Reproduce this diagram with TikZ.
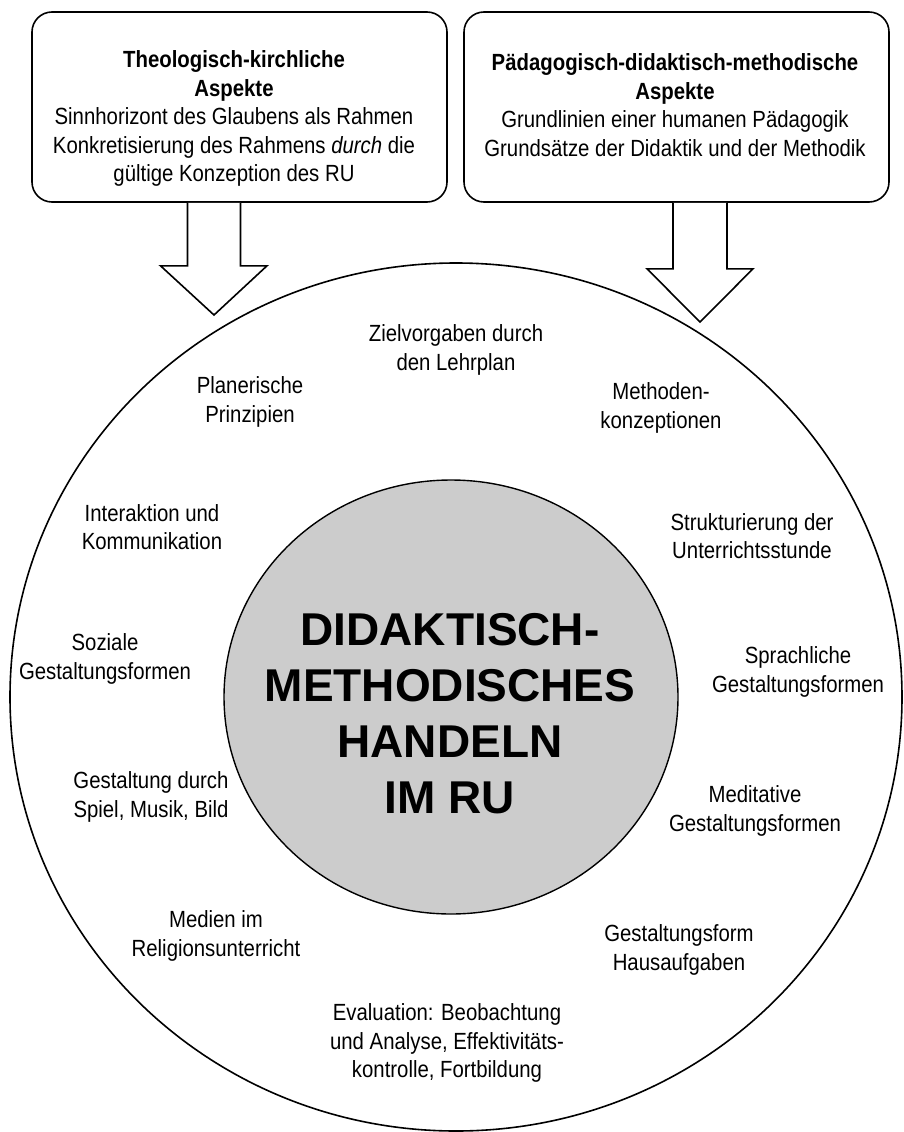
\documentclass[tikz,border=0pt]{standalone}
\usepackage{fontspec}
\setmainfont{Liberation Sans}[FakeStretch=0.87]
\newfontfamily\corefont{Liberation Sans}
\usetikzlibrary{shapes.geometric,calc}

\tikzset{
  aspectbox/.style={draw, line width=1.6pt, rounded corners=20pt, inner sep=0pt},
  boxtext/.style={align=center, inner sep=0pt, font=\fontsize{23.4}{28.5}\selectfont},
  ringlabel/.style={align=center, inner sep=0pt, font=\fontsize{23.4}{28.5}\selectfont},
  blockarrow/.style={draw, line width=1.6pt, fill=white, line join=miter},
  ring/.style={draw, ellipse, line width=1.6pt, inner sep=0pt},
  core/.style={draw, ellipse, line width=1.4pt, inner sep=0pt, fill=black!20},
  coretext/.style={align=center, inner sep=0pt, font=\corefont\fontsize{46}{56}\selectfont\bfseries}
}

\begin{document}
\begin{tikzpicture}[x=1pt, y=-1pt]
  \useasboundingbox (0,0) rectangle (904,1132);
  \fill[white] (0,0) rectangle (904,1132);

  % outer ring and shaded core
  \node[ring, minimum width=892pt, minimum height=868pt] (outer) at (456,697) {};
  \node[core, minimum width=454pt, minimum height=434pt] (inner) at (451,697) {};
  \node[coretext] (title) at (450,714) {DIDAKTISCH-\\METHODISCHES\\HANDELN\\IM RU};

  % the two aspect boxes
  \node[aspectbox, minimum width=415pt, minimum height=190pt] (theo) at (239.5,107) {};
  \node[aspectbox, minimum width=425pt, minimum height=190pt] (paed) at (676.5,107) {};

  \node[boxtext] (theotext) at (234,118.5)
    {\textbf{Theologisch-kirchliche}\\\textbf{Aspekte}\\
     Sinnhorizont des Glaubens als Rahmen\\
     Konkretisierung des Rahmens \textit{durch} die\\
     gültige Konzeption des RU};
  \node[boxtext] (paedtext) at (675,105)
    {\textbf{Pädagogisch-didaktisch-methodische}\\\textbf{Aspekte}\\
     Grundlinien einer humanen Pädagogik\\
     Grundsätze der Didaktik und der Methodik};

  % block arrows from the boxes into the ring
  \coordinate (tipL) at (214,315);
  \coordinate (tipR) at (700,322);
  \draw[blockarrow]
    ($(theo.south -| tipL)+(-26.5,0)$) -- ++(0,63) -- ++(-27,0) -- (tipL)
    -- ($(theo.south -| tipL)+(53,63)$) -- ++(-26.5,0) -- ($(theo.south -| tipL)+(26.5,0)$);
  \draw[blockarrow]
    ($(paed.south -| tipR)+(-27,0)$) -- ++(0,66) -- ++(-26,0) -- (tipR)
    -- ($(paed.south -| tipR)+(53,66)$) -- ++(-26,0) -- ($(paed.south -| tipR)+(27,0)$);

  % labels around the core
  \node[ringlabel] (ziel) at (456,350) {Zielvorgaben durch\\den Lehrplan};
  \node[ringlabel] (plan) at (250,402) {Planerische\\Prinzipien};
  \node[ringlabel] (meth) at (661,408) {Methoden-\\konzeptionen};
  \node[ringlabel] (inter) at (152,527) {Interaktion und\\Kommunikation};
  \node[ringlabel] (struk) at (752,536) {Strukturierung der\\Unterrichtsstunde};
  \node[ringlabel] (sozial) at (105,659) {Soziale\\Gestaltungsformen};
  \node[ringlabel] (sprach) at (798,672) {Sprachliche\\Gestaltungsformen};
  \node[ringlabel] (spiel) at (151,797) {Gestaltung durch\\Spiel, Musik, Bild};
  \node[ringlabel] (medit) at (755,811) {Meditative\\Gestaltungsformen};
  \node[ringlabel] (medien) at (216,936) {Medien im\\Religionsunterricht};
  \node[ringlabel] (haus) at (679,950) {Gestaltungsform\\Hausaufgaben};
  \node[ringlabel] (eval) at (447,1043)
    {Evaluation: Beobachtung\\und Analyse, Effektivitäts-\\kontrolle, Fortbildung};
\end{tikzpicture}
\end{document}
